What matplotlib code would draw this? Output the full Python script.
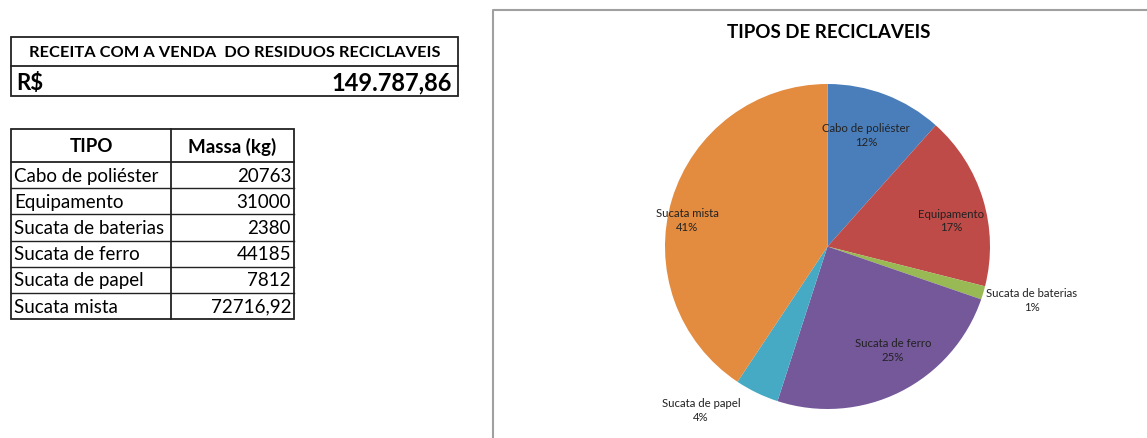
import numpy as np
import matplotlib
matplotlib.use('Agg')
import matplotlib.pyplot as plt
from matplotlib.patches import Rectangle

# data
tipos = ['Cabo de poliéster', 'Equipamento', 'Sucata de baterias',
         'Sucata de ferro', 'Sucata de papel', 'Sucata mista']
massa = [20763, 31000, 2380, 44185, 7812, 72716.92]
massa_txt = ['20763', '31000', '2380', '44185', '7812', '72716,92']
receita_titulo = 'RECEITA COM A VENDA  DO RESIDUOS RECICLAVEIS'
receita_valor = '149.787,86'

cores = ['#4A7EBB', '#BE4B48', '#98B954', '#74589A', '#46AAC5', '#E38B3F']
# label distance (fraction of radius) and angle shift per label
dist = [0.73, 0.78, 1.30, 0.75, 1.27, 0.88]
shift = [2, -5, 2, 6, -12, 6]

plt.rcParams['font.family'] = ['Lato', 'DejaVu Sans']

fig = plt.figure(figsize=(11.47, 4.39), dpi=100)

# ---- left side: tables, drawn in pixel coords
tab = fig.add_axes([0, 0, 1, 1])
tab.set_xlim(0, 1147)
tab.set_ylim(439, 0)
tab.axis('off')

lw = 1.3
tab.add_patch(Rectangle((11, 38), 447, 59, fill=False, lw=lw, ec='#222222'))
tab.plot([11, 458], [67, 67], color='#222222', lw=lw)
tab.text(235, 53, receita_titulo, ha='center', va='center', fontsize=11.8,
         fontweight='bold')
tab.text(16, 83, 'R$', ha='left', va='center', fontsize=16, fontweight='bold')
tab.text(452, 83, receita_valor, ha='right', va='center', fontsize=17,
         fontweight='bold')

x0, xm, x1 = 11, 171, 294
y_head, y_rows = 130, 163
row_h = 26.2
y_end = y_rows + row_h * len(tipos)
tab.add_patch(Rectangle((x0, y_head), x1 - x0, y_end - y_head, fill=False,
                        lw=lw, ec='#222222'))
tab.plot([xm, xm], [y_head, y_end], color='#222222', lw=lw)
tab.plot([x0, x1], [y_rows, y_rows], color='#222222', lw=lw)
tab.text((x0 + xm) / 2, (y_head + y_rows) / 2, 'TIPO', ha='center',
         va='center', fontsize=13.5, fontweight='bold')
tab.text((xm + x1) / 2, (y_head + y_rows) / 2, 'Massa (kg)', ha='center',
         va='center', fontsize=13.5, fontweight='bold')
for i, (t, m) in enumerate(zip(tipos, massa_txt)):
    yc = y_rows + row_h * (i + 0.5)
    if i > 0:
        tab.plot([x0, x1], [y_rows + row_h * i] * 2, color='#222222', lw=1)
    tab.text(x0 + 3, yc, t, ha='left', va='center', fontsize=13.5)
    tab.text(x1 - 3, yc, m, ha='right', va='center', fontsize=13.5)

# chart area frame
tab.plot([493, 493, 1147], [439, 11, 11], color='#A0A0A0', lw=1.5)

# ---- pie
ax = fig.add_axes([665 / 1147, 1 - 410 / 439, 325 / 1147, 325 / 439])
wedges, _ = ax.pie(massa, colors=cores, startangle=90, counterclock=False,
                   wedgeprops=dict(linewidth=0))
ax.set_xlim(-1, 1)
ax.set_ylim(-1, 1)
ax.set_aspect('equal')
tot = sum(massa)
for w, t, v, d, s in zip(wedges, tipos, massa, dist, shift):
    ang = np.deg2rad((w.theta1 + w.theta2) / 2 + s)
    ax.text(d * np.cos(ang), d * np.sin(ang), '%s\n%d%%' % (t, round(v / tot * 100)),
            ha='center', va='center', fontsize=8.2, color='#222222',
            linespacing=1.3)

fig.text(829 / 1147, 1 - 33 / 439, 'TIPOS DE RECICLAVEIS', ha='center',
         va='center', fontsize=13.5, fontweight='bold')

fig.savefig('out.png', dpi=100)
